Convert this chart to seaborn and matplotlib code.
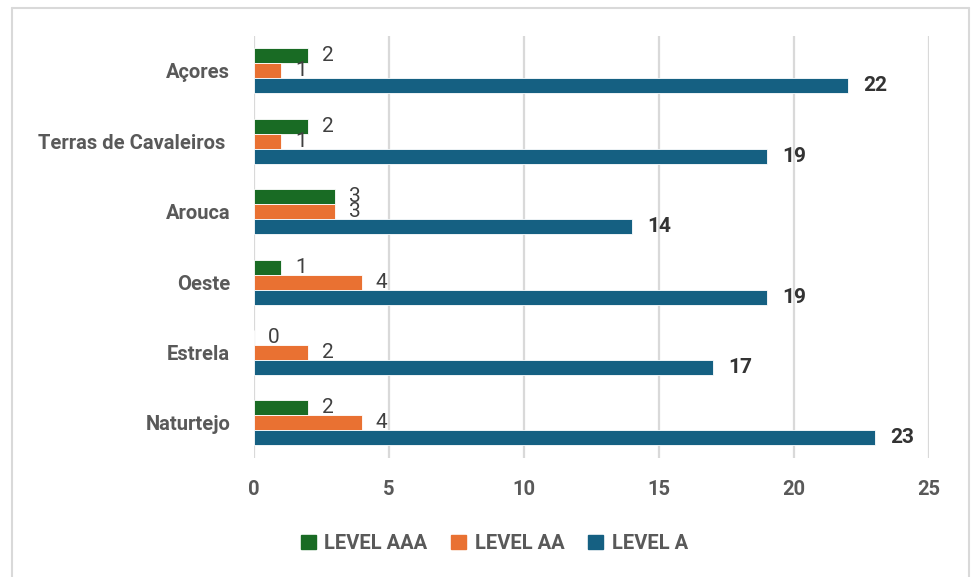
import pandas as pd
import seaborn as sns
import matplotlib.pyplot as plt
from matplotlib.lines import Line2D

categories = ['Açores', 'Terras de Cavaleiros ', 'Arouca', 'Oeste', 'Estrela', 'Naturtejo']
level_aaa = [2, 2, 3, 1, 0, 2]
level_aa = [1, 1, 3, 4, 2, 4]
level_a = [22, 19, 14, 19, 17, 23]
series_names = ['LEVEL AAA', 'LEVEL AA', 'LEVEL A']
colors = ['#196B24', '#E97132', '#156082']

rows = []
for name, vals in zip(series_names, [level_aaa, level_aa, level_a]):
    for cat, v in zip(categories, vals):
        rows.append({'category': cat, 'level': name, 'value': v})
df = pd.DataFrame(rows)

sns.set_style('white')
plt.rcParams['font.family'] = ['Roboto', 'DejaVu Sans']

fig = plt.figure(figsize=(9.73, 5.77), dpi=100)
ax = fig.add_axes([0.261, 0.206, 0.694, 0.732])

sns.barplot(data=df, y='category', x='value', hue='level', order=categories,
            hue_order=series_names, palette=colors, saturation=1, orient='h',
            width=0.64, edgecolor='white', linewidth=0.6, ax=ax)

# data labels
for i, cont in enumerate(ax.containers):
    if i == 2:
        ax.bar_label(cont, padding=11, fontsize=15, fontweight='bold', color='#333333')
    else:
        ax.bar_label(cont, padding=10, fontsize=15, color='#404040')

ax.set_xlim(0, 25)
ax.set_xticks(range(0, 26, 5))
ax.grid(axis='x', color='#D9D9D9', linewidth=1.6)
ax.set_axisbelow(True)
for s in ax.spines.values():
    s.set_visible(False)
ax.set_xlabel('')
ax.set_ylabel('')
ax.tick_params(axis='both', length=0)
ax.tick_params(axis='x', pad=16)
ax.tick_params(axis='y', pad=17)
for lbl in ax.get_xticklabels() + ax.get_yticklabels():
    lbl.set_fontweight('bold')
    lbl.set_color('#595959')
    lbl.set_fontsize(14.5)

ax.get_legend().remove()
handles = [plt.Rectangle((0, 0), 1, 1, color=c) for c in colors]
fig.legend(handles, series_names, loc='center', bbox_to_anchor=(0.508, 0.058), ncol=3,
           frameon=False, handlelength=0.75, handleheight=0.75, handletextpad=0.4,
           columnspacing=1.2, prop={'weight': 'bold', 'size': 14.5}, labelcolor='#595959')

# outer chart border
border_kw = dict(color='#D9D9D9', linewidth=1.5, transform=fig.transFigure)
fig.add_artist(Line2D([12/973, 969/973], [1 - 8/577, 1 - 8/577], **border_kw))
fig.add_artist(Line2D([12/973, 12/973], [0, 1 - 8/577], **border_kw))
fig.add_artist(Line2D([969/973, 969/973], [0, 1 - 8/577], **border_kw))

fig.savefig('out.png', dpi=100)
